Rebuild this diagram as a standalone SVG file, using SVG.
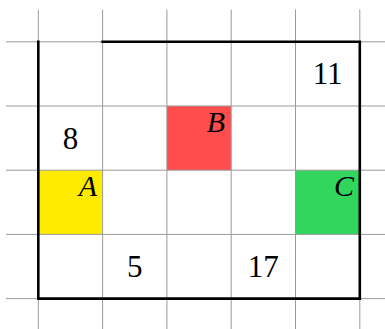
<svg xmlns="http://www.w3.org/2000/svg" width="385" height="329" viewBox="0 0 385 329">
<style>
.grid line{stroke:#9a9a9a;stroke-width:1}
.border{fill:none;stroke:#000;stroke-width:2.6;stroke-linecap:square}
.num{font-family:"Liberation Serif",serif;font-size:31px;text-anchor:middle;fill:#000}
.lbl{font-family:"Liberation Serif",serif;font-style:italic;font-size:30px;text-anchor:end;fill:#000}
</style>
<rect width="385" height="329" fill="#fff"/>
<g id="cellA"><rect x="38.3" y="170.2" width="64.3" height="64.2" fill="#FFEB00"/><text class="lbl" x="97" y="196">A</text></g>
<g id="cellB"><rect x="166.9" y="106" width="64.3" height="64.2" fill="#FF4D4D"/><text class="lbl" x="225" y="132">B</text></g>
<g id="cellC"><rect x="295.5" y="170.2" width="64.3" height="64.2" fill="#33D65C"/><text class="lbl" x="354" y="196">C</text></g>
<g class="grid" id="grid">
<line x1="38.3" y1="9.5" x2="38.3" y2="329"/>
<line x1="102.6" y1="9.5" x2="102.6" y2="329"/>
<line x1="166.9" y1="9.5" x2="166.9" y2="329"/>
<line x1="231.2" y1="9.5" x2="231.2" y2="329"/>
<line x1="295.5" y1="9.5" x2="295.5" y2="329"/>
<line x1="359.8" y1="9.5" x2="359.8" y2="329"/>
<line x1="6" y1="41.8" x2="385" y2="41.8"/>
<line x1="6" y1="106" x2="385" y2="106"/>
<line x1="6" y1="170.2" x2="385" y2="170.2"/>
<line x1="6" y1="234.4" x2="385" y2="234.4"/>
<line x1="6" y1="298.6" x2="385" y2="298.6"/>
</g>
<g id="walls"><polyline class="border" points="102.6,41.8 359.8,41.8 359.8,298.6 38.3,298.6 38.3,41.8"/></g>
<g id="numbers">
<text class="num" x="70.5" y="149">8</text>
<text class="num" x="327.6" y="84">11</text>
<text class="num" x="134.7" y="277">5</text>
<text class="num" x="263.3" y="277">17</text>
</g>
</svg>
